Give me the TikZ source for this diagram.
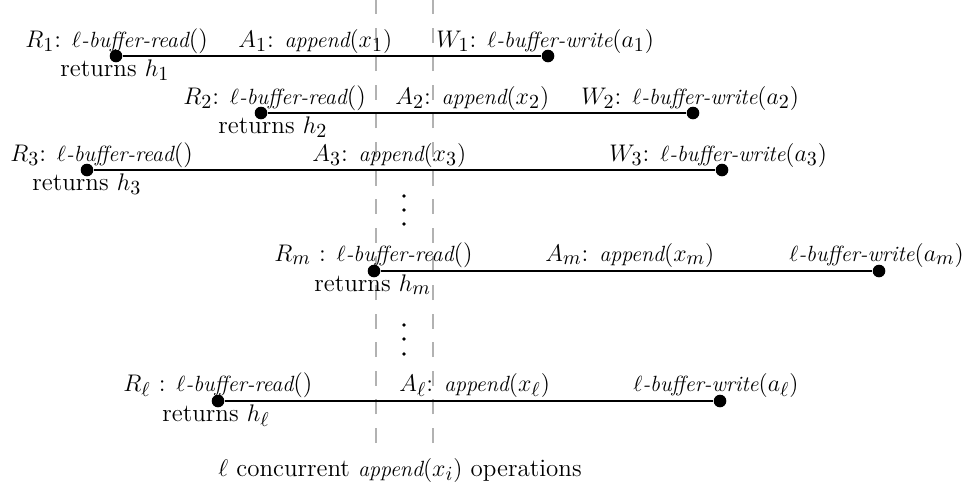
\documentclass[tikz,border=0pt]{standalone}
\DeclareMathSizes{12.5}{12.5}{10}{8}
\begin{document}
\begin{tikzpicture}[x=0.5pt,y=-0.5pt,
  lbl/.style={anchor=base west,inner sep=0pt,font=\fontsize{12.5}{15}\selectfont},
  ev/.style={circle,fill=black,inner sep=0pt,minimum size=6.3pt},
  op/.style={line width=0.9pt},
  conc/.style={draw=black!30,line width=0.6pt,dash pattern=on 7.5pt off 6.8pt},
  vd/.style={circle,fill=black,inner sep=0pt,minimum size=1.8pt}]
\newcommand{\opit}[1]{{\fontsize{11}{13}\selectfont\itshape #1}}
\useasboundingbox (0,0) rectangle (972,489);
% concurrency band
\coordinate (c1t) at (376,-10);
\coordinate (c1b) at (376,443);
\coordinate (c2t) at (433,-10);
\coordinate (c2b) at (433,443);
\draw[conc] (c1b) -- (c1t);
\draw[conc] (c2b) -- (c2t);
% row 1
\node[ev] (r1) at (116,56) {};
\node[ev] (w1) at (548,56) {};
\draw[op] (r1) -- (w1);
\node[lbl] (lr1) at (25,47) {$R_1$: \opit{$\ell$-buffer-read}()};
\node[lbl] (la1) at (238,47) {$A_1$: \opit{append}$(x_1)$};
\node[lbl] (lw1) at (436,47) {$W_1$: \opit{$\ell$-buffer-write}$(a_1)$};
\node[lbl] (h1) at (60,76) {returns $h_1$};
% row 2
\node[ev] (r2) at (261,113) {};
\node[ev] (w2) at (693,113) {};
\draw[op] (r2) -- (w2);
\node[lbl] (lr2) at (183,104) {$R_2$: \opit{$\ell$-buffer-read}()};
\node[lbl] (la2) at (395,104) {$A_2$: \opit{append}$(x_2)$};
\node[lbl] (lw2) at (581,104) {$W_2$: \opit{$\ell$-buffer-write}$(a_2)$};
\node[lbl] (h2) at (218,133) {returns $h_2$};
% row 3
\node[ev] (r3) at (87,170) {};
\node[ev] (w3) at (722,170) {};
\draw[op] (r3) -- (w3);
\node[lbl] (lr3) at (10,161) {$R_3$: \opit{$\ell$-buffer-read}()};
\node[lbl] (la3) at (312,161) {$A_3$: \opit{append}$(x_3)$};
\node[lbl] (lw3) at (609,161) {$W_3$: \opit{$\ell$-buffer-write}$(a_3)$};
\node[lbl] (h3) at (32,190) {returns $h_3$};
% vdots 1
\node[vd] (d1) at (404,196) {};
\node[vd] (d2) at (404,210) {};
\node[vd] (d3) at (404,224) {};
% row m
\node[ev] (rm) at (374,271) {};
\node[ev] (wm) at (879,271) {};
\draw[op] (rm) -- (wm);
\node[lbl] (lrm) at (274,261) {$R_m$ : \opit{$\ell$-buffer-read}()};
\node[lbl] (lam) at (545,261) {$A_m$: \opit{append}$(x_m)$};
\node[lbl] (lwm) at (789,261) {\opit{$\ell$-buffer-write}$(a_m)$};
\node[lbl] (hm) at (314,291) {returns $h_m$};
% vdots 2
\node[vd] (d4) at (404,325) {};
\node[vd] (d5) at (404,339) {};
\node[vd] (d6) at (404,354) {};
% row l
\node[ev] (rl) at (218,401) {};
\node[ev] (wl) at (720,401) {};
\draw[op] (rl) -- (wl);
\node[lbl] (lrl) at (123,391) {$R_\ell$ : \opit{$\ell$-buffer-read}()};
\node[lbl] (lal) at (399,391) {$A_\ell$: \opit{append}$(x_\ell)$};
\node[lbl] (lwl) at (633,391) {\opit{$\ell$-buffer-write}$(a_\ell)$};
\node[lbl] (hl) at (162,421) {returns $h_\ell$};
% caption
\node[lbl] (cap) at (218,476) {$\ell$ concurrent \opit{append}$(x_i)$ operations};
\end{tikzpicture}
\end{document}
